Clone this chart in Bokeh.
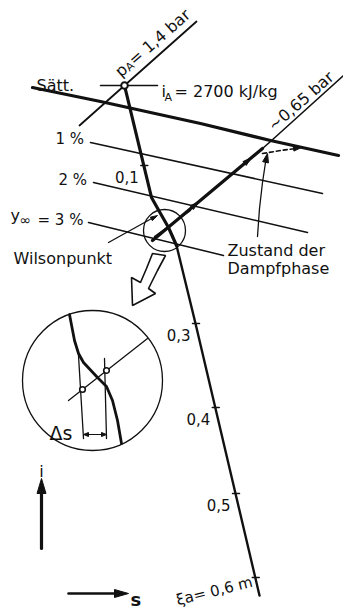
import numpy as np
from bokeh.plotting import figure
from bokeh.models import Range1d
from bokeh.core.properties import value
from bokeh.embed import file_html
from bokeh.resources import INLINE

INK = "#111111"
FONT = "DejaVu Sans"

# ---------------- i-s diagram of the nozzle expansion (drawing units, i grows downward) ----------------
# state A at nozzle inlet and its enthalpy mark
a_s, a_i = [124], [85]
ia_s, ia_i = [100, 157], [85, 85]
# saturation line
sat_s = [32, 100, 200, 270, 338]
sat_i = [87, 101, 123, 140, 155]
# lines of constant wetness y = 1 %, 2 %, 3 %
wet_pct = [1, 2, 3]
wet_s0, wet_i0 = [90, 93, 88], [142, 182, 222]
wet_s1, wet_i1 = [322, 307, 223], [193, 232, 255]
# inlet isobar p_A = 1.4 bar
pa_s, pa_i = [79, 196], [125, 21]
# outlet isobar ~0.65 bar: wet part (state of the vapour phase) and superheated part
p65_wet_s, p65_wet_i = [152, 262], [240, 148]
p65_s, p65_i = [262, 270, 343], [148, 141, 75]
# expansion line along the nozzle
exp_s = [124, 151, 160, 168, 176, 195, 259]
exp_i = [85, 197, 213, 227, 245, 323, 595]
# nozzle coordinate xi (m) marked on the expansion line
xi_val = [0.1, 0.3, 0.4, 0.5, 0.6]
xi_i = [165, 323, 407, 493, 577]
xi_txt = ["0,1", "0,3", "0,4", "0,5"]

# Wilson region and its enlargement
wil_c, wil_r = (164, 230), 21
det_c, det_r = (92, 380), 70
det_thick_s = [69, 74, 78, 83, 97, 106, 112, 117, 121]
det_thick_i = [314, 340, 353, 362, 377, 386, 400, 420, 443]
det_eq_s, det_eq_i = [78, 83], [355, 438]
det_ref_s, det_ref_i = [104, 106], [358, 438]
det_iso_s, det_iso_i = [68, 147], [400, 338]
det_pts_s, det_pts_i = [82, 106], [389, 370]
ds_i = 434

# hollow pointer from the Wilson circle to the enlargement
hol_s = [152, 146, 140, 131, 132, 155, 148, 157, 165]
hol_i = [253, 268, 282, 277, 305, 293, 288, 270, 255]

p = figure(width=343, height=611, x_range=Range1d(0, 343), y_range=Range1d(611, 0),
           min_border=0, toolbar_location=None, output_backend="svg",
           x_axis_location=None, y_axis_location=None)
p.grid.visible = False
p.outline_line_color = None
p.background_fill_color = "white"
p.border_fill_color = "white"

# DejaVu Sans advance widths (em) for laying out runs of text
ADV = {' ': 0.318, '=': 0.838, ',': 0.318, '.': 0.318, '~': 0.838, '%': 0.95, '/': 0.337,
       'a': 0.613, 'b': 0.635, 'r': 0.411, 'p': 0.635, 'm': 0.974, 'A': 0.684, 'ξ': 0.5}


def tw(t, size):
    return sum(ADV.get(c, 0.636 if c.isdigit() else 0.6) for c in t) * size


def line(xs, ys, w=1.5, dash="solid"):
    p.line(xs, ys, line_color=INK, line_width=w, line_cap="round", line_join="round", line_dash=dash)


def head(tx, ty, fx, fy, length=10, width=7, fill=INK):
    d = np.array([tx - fx, ty - fy], float)
    d /= np.hypot(*d)
    n = np.array([-d[1], d[0]])
    b = np.array([tx, ty]) - d * length
    xs = [tx, b[0] + n[0] * width / 2, b[0] - n[0] * width / 2]
    ys = [ty, b[1] + n[1] * width / 2, b[1] - n[1] * width / 2]
    p.patch(xs, ys, fill_color=fill, line_color=INK, line_width=1)


def label(x, y, t, size=16, align="left", base="alphabetic", angle=0.0, weight="normal"):
    p.text(x=[x], y=[y], text=[t], text_font=value(FONT), text_font_size=f"{size}px",
           text_align=align, text_baseline=base, angle=angle, text_color=INK,
           text_font_style=weight)


def runs(x0, y0, deg, parts):
    a = np.radians(deg)
    ux, uy = np.cos(a), -np.sin(a)
    nx, ny = np.sin(a), np.cos(a)
    pos = 0.0
    for t, size, drop in parts:
        label(x0 + ux * pos + nx * drop, y0 + uy * pos + ny * drop, t, size, angle=a)
        pos += tw(t, size)


# saturation line and wetness lines
line(sat_s, sat_i, 3.2)
for s0, i0, s1, i1 in zip(wet_s0, wet_i0, wet_s1, wet_i1):
    line([s0, s1], [i0, i1], 1.5)

# isobars
line(pa_s, pa_i, 1.8)
line(p65_s, p65_i, 1.6)
line(p65_wet_s, p65_wet_i, 3.2)
# a parallel trace inside the Wilson circle
line([154, 190], [236, 210], 1.4)
for f in (0.42, 0.9):
    tx = p65_wet_s[0] + f * (p65_wet_s[1] - p65_wet_s[0])
    ty = p65_wet_i[0] + f * (p65_wet_i[1] - p65_wet_i[0])
    head(tx, ty, p65_wet_s[0], p65_wet_i[0], 9, 5)

# expansion line with nozzle coordinate ticks
line(exp_s[:5], exp_i[:5], 3.2)
line(exp_s[4:], exp_i[4:], 2.4)
tick_s = np.interp(xi_i, exp_i, exp_s)
for k, (ts, ti) in enumerate(zip(tick_s, xi_i)):
    line([ts - 3, ts + 4], [ti, ti], 1.5)
    if k < len(xi_txt):
        label(ts - 5, ti + 11, xi_txt[k], 15, align="right")
label(176, 600, f"ξa= {xi_val[-1]:.1f} m".replace(".", ","), 15, angle=np.radians(14))

# enthalpy mark and state A
line(ia_s, ia_i, 1.5)
p.circle(a_s, a_i, radius=3.3, fill_color="white", line_color=INK, line_width=2)

# Wilson circle, hollow pointer and leader
p.circle([wil_c[0]], [wil_c[1]], radius=wil_r, fill_color=None, line_color=INK, line_width=1.3)
p.patch(hol_s, hol_i, fill_color="white", line_color=INK, line_width=1.6)
line([108, 153], [242, 217], 1.3)
head(157, 215, 108, 242, 7, 4)

# state of the vapour phase: dashed return to saturation and pointer
line([262, 280, 296], [153, 150, 148], 1.6, "4 3")
head(301, 147, 280, 150, 8, 5)
cs = [257, 259, 262, 265]
ci = [236, 208, 182, 162]
line(cs, ci, 1.3)
head(267, 153, 265, 162, 9, 6)

# enlargement of the Wilson region
p.circle([det_c[0]], [det_c[1]], radius=det_r, fill_color=None, line_color=INK, line_width=1.3)
line(det_thick_s, det_thick_i, 2.8)
line(det_eq_s, det_eq_i, 1.3)
line(det_ref_s, det_ref_i, 1.3)
line(det_iso_s, det_iso_i, 1.3)
p.circle(det_pts_s, det_pts_i, radius=2.8, fill_color="white", line_color=INK, line_width=1.6)
line([det_eq_s[1] + 4, det_ref_s[1] - 4], [ds_i, ds_i], 1.2)
head(det_eq_s[1], ds_i, det_ref_s[1], ds_i, 5, 4)
head(det_ref_s[1], ds_i, det_eq_s[1], ds_i, 5, 4)
label(49, 432, "Δs", 19)

# axis arrows
line([41, 41], [548, 490], 3.2)
head(41, 478, 41, 548, 15, 9)
label(41, 471, "i", 16, align="center")
line([68, 116], [593, 593], 2.6)
head(128, 593, 68, 593, 14, 8)
label(130, 599, "s", 18, weight="bold")

# text
label(36, 85, "Sätt.", 16)
label(161, 91, "i", 16)
label(164, 97, "A", 11)
label(174, 91, "= 2700 kJ/kg", 16)
runs(117, 73, 41, [("p", 16, 0), ("A", 11, 3), ("= 1,4 bar", 16, 0)])
runs(270, 127, 41, [("~0,65 bar", 16, 0)])
for pct, s0, i0 in zip(wet_pct, wet_s0, wet_i0):
    if pct == 3:
        label(10, 215, "y", 16)
        label(19, 219, "∞", 14)
        label(37, 219, f"= {pct} %", 15)
    else:
        label(s0 - 35, i0 - 4 + (1 if pct == 2 else 0), f"{pct} %", 15)
label(13, 258, "Wilsonpunkt", 16)
label(227, 250, "Zustand der", 16)
label(227, 268, "Dampfphase", 16)

open("out.html", "w").write(file_html(p, INLINE))
